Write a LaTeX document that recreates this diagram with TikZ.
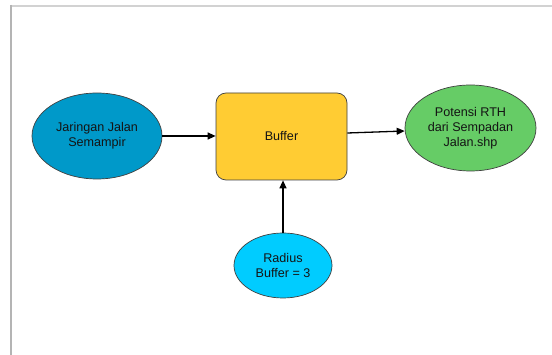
\documentclass[tikz,border=0pt]{standalone}
\usepackage{fontspec}
\setmainfont{Liberation Sans}
\usetikzlibrary{shapes.geometric,arrows.meta}
\definecolor{cblue}{HTML}{0099C9}
\definecolor{cyellow}{HTML}{FFCC33}
\definecolor{cgreen}{HTML}{66CC66}
\definecolor{ccyan}{HTML}{00CCFF}
\definecolor{ctext}{HTML}{141414}
\definecolor{frametop}{HTML}{D2D2D2}
\definecolor{frameleft}{HTML}{B4B4B4}
\begin{document}
\begin{tikzpicture}[x=1pt,y=-1pt,
  every node/.style={font=\fontsize{12.6}{15.2}\selectfont, text=ctext, align=center},
  ell/.style={ellipse, draw=black!75, line width=0.7pt, inner sep=0pt},
  boxnode/.style={rectangle, rounded corners=10pt, draw=black!75, line width=0.7pt, fill=cyellow, minimum width=131pt, minimum height=87pt},
  conn/.style={line width=1.3pt, -{Triangle[length=8pt,width=7pt]}}]
\useasboundingbox (0,0) rectangle (552,355);
\fill[white] (0,0) rectangle (552,355);
\draw[frametop, line width=2pt] (10.5,6) -- (552,6);
\draw[frameleft, line width=1.6pt] (11.2,5) -- (11.2,355);
\node[ell, fill=cblue, minimum width=130pt, minimum height=86pt] (jar) at (97,136) {Jaringan Jalan\\Semampir};
\node[boxnode] (buf) at (281.5,136.5) {Buffer};
\node[ell, fill=cgreen, minimum width=131pt, minimum height=86pt] (pot) at (470.5,128) {Potensi RTH\\dari Sempadan\\Jalan.shp};
\node[ell, fill=ccyan, minimum width=98pt, minimum height=65pt] (rad) at (283,265.5) {Radius\\Buffer = 3};
\draw[conn] (jar.east) -- (buf.west |- jar.east);
\draw[conn] (buf.east |- 0,133) -- (pot.west |- 0,131);
\draw[conn] (rad.north) -- (rad.north |- buf.south);
\end{tikzpicture}
\end{document}
